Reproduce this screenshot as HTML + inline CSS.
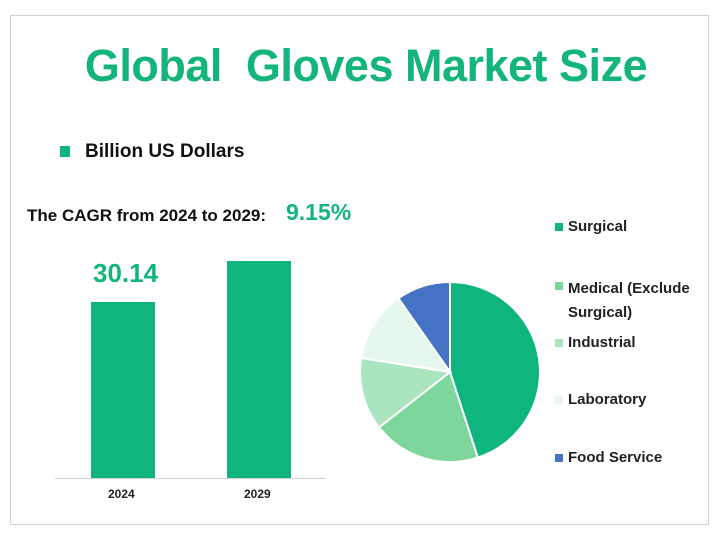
<!DOCTYPE html><html><head><style>
body{margin:0;width:718px;height:540px;background:#fff;font-family:"Liberation Sans",sans-serif;position:relative;overflow:hidden}
.a{position:absolute;white-space:nowrap}
</style></head><body>
<div class="a" style="left:10px;top:15px;width:697px;height:508px;border:1px solid #d0d0d0"></div>
<div class="a" style="left:0;width:732px;top:40px;text-align:center;font-size:45px;font-weight:bold;color:#13b57a;letter-spacing:-0.5px">Global&nbsp; Gloves Market Size</div>
<div class="a" style="left:60px;top:146px;width:10px;height:11px;background:#0fb57f"></div>
<div class="a" style="left:85px;top:141px;font-size:19px;font-weight:bold;color:#111">Billion US Dollars</div>
<div class="a" style="left:27px;top:206px;font-size:17px;font-weight:bold;color:#111">The CAGR from 2024 to 2029:</div>
<div class="a" style="left:286px;top:199px;font-size:23px;font-weight:bold;color:#13b57a">9.15%</div>
<div class="a" style="left:93px;top:258px;font-size:26px;font-weight:bold;color:#13b57a">30.14</div>
<div class="a" style="left:91px;top:302px;width:64px;height:176px;background:#0fb57f"></div>
<div class="a" style="left:227px;top:261px;width:64px;height:217px;background:#0fb57f"></div>
<div class="a" style="left:55px;top:478px;width:270px;height:1px;background:#d0d0d0"></div>
<div class="a" style="left:108px;top:487px;font-size:12px;font-weight:bold;color:#222">2024</div>
<div class="a" style="left:244px;top:487px;font-size:12px;font-weight:bold;color:#222">2029</div>
<svg class="a" style="left:0;top:0" width="718" height="540">
<g stroke="#fff" stroke-width="2">
<path d="M450,372 L450,282 A90,90 0 0 1 477.8,457.6Z" fill="#0fb57f"/>
<path d="M450,372 L477.8,457.6 A90,90 0 0 1 379.1,427.4Z" fill="#7dd69b"/>
<path d="M450,372 L379.1,427.4 A90,90 0 0 1 361.1,357.9Z" fill="#abe5c0"/>
<path d="M450,372 L361.1,357.9 A90,90 0 0 1 398.4,298.3Z" fill="#e6f7ee"/>
<path d="M450,372 L398.4,298.3 A90,90 0 0 1 450,282Z" fill="#4472c4"/>
</g></svg>
<div class="a" style="left:555px;top:223px;width:8px;height:8px;background:#0fb57f"></div>
<div class="a" style="left:568px;top:218px;font-size:15px;font-weight:bold;color:#222">Surgical</div>
<div class="a" style="left:555px;top:282px;width:8px;height:8px;background:#7dd69b"></div>
<div class="a" style="left:568px;top:277px;font-size:15px;font-weight:bold;color:#222;line-height:24px">Medical (Exclude<br>Surgical)</div>
<div class="a" style="left:555px;top:339px;width:8px;height:8px;background:#abe5c0"></div>
<div class="a" style="left:568px;top:334px;font-size:15px;font-weight:bold;color:#222">Industrial</div>
<div class="a" style="left:555px;top:396px;width:8px;height:8px;background:#e6f7ee"></div>
<div class="a" style="left:568px;top:391px;font-size:15px;font-weight:bold;color:#222">Laboratory</div>
<div class="a" style="left:555px;top:454px;width:8px;height:8px;background:#4472c4"></div>
<div class="a" style="left:568px;top:449px;font-size:15px;font-weight:bold;color:#222">Food Service</div>
</body></html>
